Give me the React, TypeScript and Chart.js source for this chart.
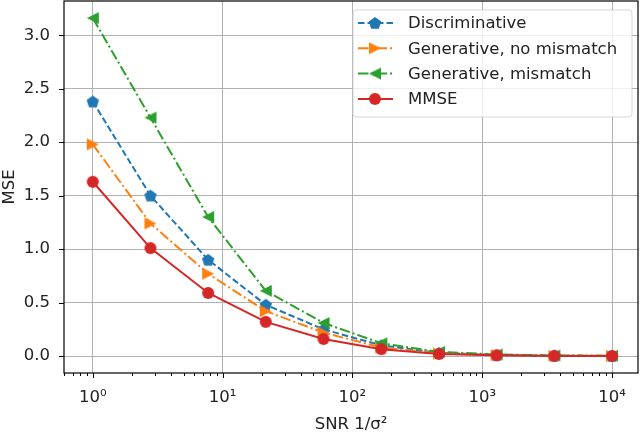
import { useEffect, useRef } from "react"
import { Chart, registerables } from "chart.js"

Chart.register(...registerables)

// SNR values (log spaced, 10 points from 1 to 1e4)
const snr = [1, 2.78, 7.74, 21.5, 59.9, 167, 464, 1292, 3594, 10000]
const discriminative = [2.38, 1.5, 0.9, 0.48, 0.25, 0.1, 0.03, 0.01, 0.004, 0.002]
const generativeNoMismatch = [1.98, 1.24, 0.77, 0.42, 0.22, 0.08, 0.025, 0.009, 0.003, 0.002]
const generativeMismatch = [3.16, 2.23, 1.3, 0.61, 0.31, 0.12, 0.04, 0.015, 0.006, 0.003]
const mmse = [1.63, 1.01, 0.59, 0.32, 0.16, 0.065, 0.02, 0.007, 0.002, 0.001]

const seriesNames = ["Discriminative", "Generative, no mismatch", "Generative, mismatch", "MMSE"]
const yTicks = [0, 0.5, 1, 1.5, 2, 2.5, 3]
const xDecades = [0, 1, 2, 3, 4]
const superscripts = ["⁰", "¹", "²", "³", "⁴"]

const FONT = "'DejaVu Sans', sans-serif"
const FONT_SIZE = 16.5
const TEXT = "#222222"

type MarkerKind = "pentagon" | "triRight" | "triLeft" | "circle"

function makeMarker(kind: MarkerKind, color: string) {
  const size = 16
  const c = size / 2
  const canvas = document.createElement("canvas")
  canvas.width = size
  canvas.height = size
  const ctx = canvas.getContext("2d")!
  ctx.fillStyle = color
  ctx.beginPath()
  if (kind === "circle") {
    ctx.arc(c, c, 6, 0, Math.PI * 2)
  } else if (kind === "pentagon") {
    const r = 6.5
    for (let k = 0; k < 5; k++) {
      const a = -Math.PI / 2 + (k * 2 * Math.PI) / 5
      const px = c + r * Math.cos(a)
      const py = c + r * Math.sin(a) + 0.6
      if (k === 0) ctx.moveTo(px, py)
      else ctx.lineTo(px, py)
    }
    ctx.closePath()
  } else if (kind === "triRight") {
    ctx.moveTo(c + 6, c)
    ctx.lineTo(c - 6, c - 6)
    ctx.lineTo(c - 6, c + 6)
    ctx.closePath()
  } else {
    ctx.moveTo(c - 6, c)
    ctx.lineTo(c + 6, c - 6)
    ctx.lineTo(c + 6, c + 6)
    ctx.closePath()
  }
  ctx.fill()
  return canvas
}

export default function App() {
  const chartRef = useRef<HTMLCanvasElement>(null)
  const chartInstance = useRef<Chart | null>(null)

  useEffect(() => {
    if (!chartRef.current) return
    document.body.style.margin = "0"

    if (chartInstance.current) {
      chartInstance.current.destroy()
    }

    const ctx = chartRef.current.getContext("2d")
    if (!ctx) return

    const colors = ["#1f77b4", "#ff7f0e", "#2ca02c", "#d62728"]
    const dashes = [[6.5, 3], [10.5, 3, 2, 3], [10.5, 3, 2, 3], []]
    const kinds: MarkerKind[] = ["pentagon", "triRight", "triLeft", "circle"]
    const markers = kinds.map((k, i) => makeMarker(k, colors[i]))
    const values = [discriminative, generativeNoMismatch, generativeMismatch, mmse]

    const datasets = values.map((vals, i) => ({
      label: seriesNames[i],
      data: vals.map((v, j) => ({ x: snr[j], y: v })),
      borderColor: colors[i],
      backgroundColor: colors[i],
      borderWidth: 2,
      borderDash: dashes[i],
      pointStyle: markers[i],
      pointRadius: 6,
      tension: 0,
      order: 4 - i,
    }))

    // Spines, tick marks and the matplotlib-style legend
    const decorations = {
      id: "decorations",
      afterDatasetsDraw(chart: Chart) {
        const c = chart.ctx
        const area = chart.chartArea
        const xs = chart.scales.x
        const ys = chart.scales.y
        c.save()

        // ticks
        c.strokeStyle = "#000"
        c.lineWidth = 1
        c.beginPath()
        for (const d of [-1, 0, 1, 2, 3, 4]) {
          for (let m = 1; m <= 9; m++) {
            const v = m * Math.pow(10, d)
            if (v < (xs.min as number) || v > (xs.max as number)) continue
            const px = Math.round(xs.getPixelForValue(v)) + 0.5
            const len = m === 1 ? 5 : 3
            c.moveTo(px, area.bottom)
            c.lineTo(px, area.bottom + len)
          }
        }
        for (const t of yTicks) {
          const py = Math.round(ys.getPixelForValue(t)) + 0.5
          c.moveTo(area.left - 5, py)
          c.lineTo(area.left, py)
        }
        c.stroke()

        // spines
        c.lineWidth = 1.2
        c.strokeRect(area.left, area.top, area.right - area.left, area.bottom - area.top)

        // legend
        const bx = 353
        const by = 10
        const bw = 279
        const bh = 107
        c.beginPath()
        c.roundRect(bx, by, bw, bh, 3)
        c.fillStyle = "rgba(255,255,255,0.8)"
        c.fill()
        c.strokeStyle = "rgba(204,204,204,0.8)"
        c.lineWidth = 1
        c.stroke()

        c.font = `${FONT_SIZE}px ${FONT}`
        c.textBaseline = "middle"
        c.textAlign = "left"
        seriesNames.forEach((name, i) => {
          const y = 23 + i * 25.3
          c.beginPath()
          c.setLineDash(dashes[i])
          c.strokeStyle = colors[i]
          c.lineWidth = 2
          c.moveTo(358, y)
          c.lineTo(393, y)
          c.stroke()
          c.setLineDash([])
          c.drawImage(markers[i], 375 - 8, y - 8)
          c.fillStyle = TEXT
          c.fillText(name, 408, y + 1)
        })
        c.restore()
      },
    }

    chartInstance.current = new Chart(ctx, {
      type: "line",
      data: { datasets },
      options: {
        responsive: false,
        animation: false,
        events: [],
        layout: { autoPadding: false, padding: { left: 0, right: 2, top: 1, bottom: 0 } },
        plugins: {
          legend: { display: false },
          tooltip: { enabled: false },
        },
        scales: {
          x: {
            type: "logarithmic",
            min: Math.pow(10, -0.2),
            max: Math.pow(10, 4.2),
            afterFit: (scale: any) => {
              scale.height = 64
              scale.paddingLeft = 0
              scale.paddingRight = 0
            },
            afterBuildTicks: (scale: any) => {
              scale.ticks = xDecades.map((d) => ({ value: Math.pow(10, d), major: true }))
            },
            border: { display: false },
            grid: { color: "#b0b0b0", lineWidth: 1, drawTicks: false },
            ticks: {
              autoSkip: false,
              maxRotation: 0,
              padding: 15,
              color: TEXT,
              font: { family: FONT, size: FONT_SIZE },
              callback: (value: any) => {
                const d = Math.round(Math.log10(Number(value)))
                return "10" + superscripts[d]
              },
            },
            title: {
              display: true,
              text: "SNR 1/σ²",
              color: TEXT,
              font: { family: FONT, size: FONT_SIZE },
              padding: { top: 0, bottom: 2 },
            },
          },
          y: {
            type: "linear",
            min: -0.158,
            max: 3.32,
            afterFit: (scale: any) => {
              scale.width = 64
              scale.paddingTop = 0
              scale.paddingBottom = 0
            },
            afterBuildTicks: (scale: any) => {
              scale.ticks = yTicks.map((v) => ({ value: v }))
            },
            border: { display: false },
            grid: { color: "#b0b0b0", lineWidth: 1, drawTicks: false },
            ticks: {
              autoSkip: false,
              padding: 14,
              color: TEXT,
              font: { family: FONT, size: FONT_SIZE },
              callback: (value: any) => Number(value).toFixed(1),
            },
            title: {
              display: true,
              text: "MSE",
              color: TEXT,
              font: { family: FONT, size: FONT_SIZE },
              padding: { top: 0, bottom: 0 },
            },
          },
        },
      },
      plugins: [decorations],
    })

    return () => {
      if (chartInstance.current) {
        chartInstance.current.destroy()
        chartInstance.current = null
      }
    }
  }, [])

  return (
    <div style={{ position: "fixed", left: 0, top: 0, width: 640, height: 437, background: "#fff" }}>
      <canvas ref={chartRef} width={640} height={437}></canvas>
    </div>
  )
}
